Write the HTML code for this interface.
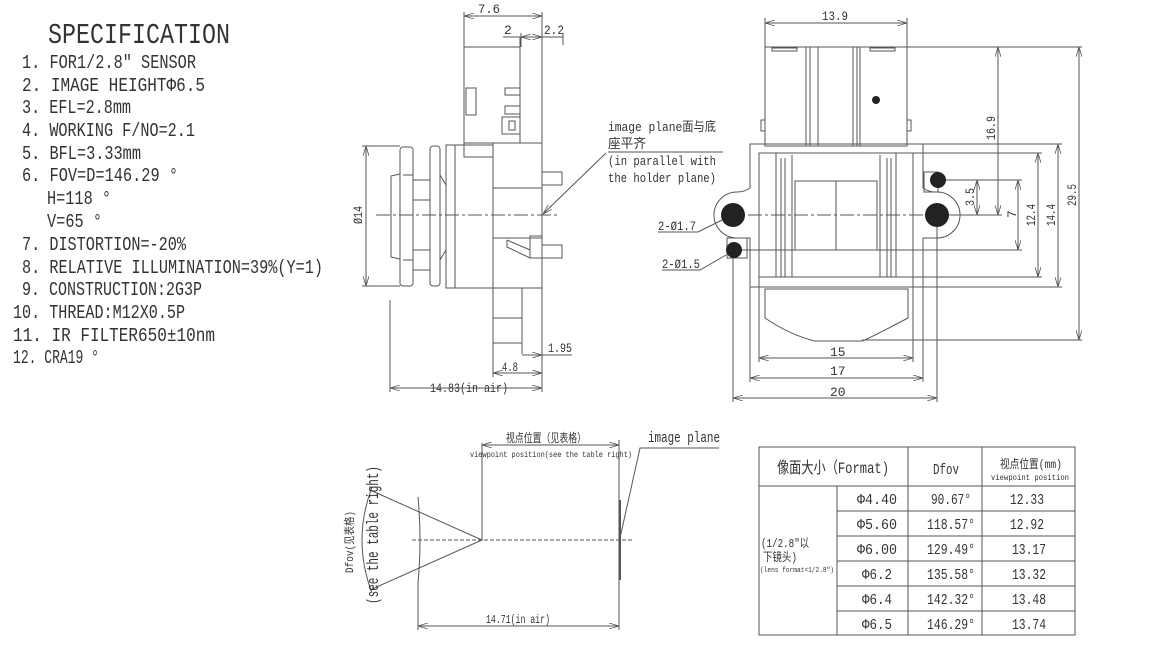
<!DOCTYPE html>
<html><head><meta charset="utf-8"><style>
html,body{margin:0;padding:0;background:#fff;width:1164px;height:650px;overflow:hidden}
svg{display:block;font-family:"Liberation Mono","Noto Sans CJK SC",monospace}
text{fill:#333}
</style></head><body>
<svg width="1164" height="650" viewBox="0 0 1164 650" xmlns="http://www.w3.org/2000/svg">
<defs>
<marker id="a" viewBox="0 0 10 6" refX="10" refY="3" markerWidth="10" markerHeight="6" orient="auto-start-reverse" markerUnits="userSpaceOnUse"><path d="M0,0 L10,3 L0,6" fill="none" stroke="#555" stroke-width="0.8"/></marker>
</defs>
<g font-size="19">
<text x="48" y="43" font-size="29" textLength="182" lengthAdjust="spacingAndGlyphs">SPECIFICATION</text>
<text x="22" y="68" textLength="174" lengthAdjust="spacingAndGlyphs">1. FOR1/2.8″ SENSOR</text>
<text x="22" y="91" textLength="183" lengthAdjust="spacingAndGlyphs">2. IMAGE HEIGHTΦ6.5</text>
<text x="22" y="113" textLength="109" lengthAdjust="spacingAndGlyphs">3. EFL=2.8mm</text>
<text x="22" y="136" textLength="173" lengthAdjust="spacingAndGlyphs">4. WORKING F/NO=2.1</text>
<text x="22" y="159" textLength="119" lengthAdjust="spacingAndGlyphs">5. BFL=3.33mm</text>
<text x="22" y="181" textLength="156" lengthAdjust="spacingAndGlyphs">6. FOV=D=146.29 °</text>
<text x="47" y="204" textLength="64" lengthAdjust="spacingAndGlyphs">H=118 °</text>
<text x="47" y="227" textLength="55" lengthAdjust="spacingAndGlyphs">V=65 °</text>
<text x="22" y="250" textLength="164" lengthAdjust="spacingAndGlyphs">7. DISTORTION=-20%</text>
<text x="22" y="273" textLength="301" lengthAdjust="spacingAndGlyphs">8. RELATIVE ILLUMINATION=39%(Y=1)</text>
<text x="22" y="295" textLength="180" lengthAdjust="spacingAndGlyphs">9. CONSTRUCTION:2G3P</text>
<text x="13" y="318" textLength="172" lengthAdjust="spacingAndGlyphs">10. THREAD:M12X0.5P</text>
<text x="13" y="341" textLength="202" lengthAdjust="spacingAndGlyphs">11. IR FILTER650±10nm</text>
<text x="13" y="363" textLength="86" lengthAdjust="spacingAndGlyphs">12. CRA19 °</text>
</g>

<!-- LEFT SIDE VIEW -->
<g fill="none" stroke="#555" stroke-width="1">
<line x1="464" y1="16" x2="542" y2="16" marker-start="url(#a)" marker-end="url(#a)"/>
<line x1="464" y1="12" x2="464" y2="47"/>
<line x1="542" y1="12" x2="542" y2="343"/>
<line x1="503" y1="37" x2="563" y2="37"/>
<line x1="521" y1="37" x2="542" y2="37" marker-start="url(#a)" marker-end="url(#a)"/>
<line x1="521" y1="33" x2="521" y2="47"/>
<line x1="563" y1="33" x2="563" y2="45"/>
<rect x="464" y="47" width="56" height="96"/>
<line x1="520" y1="37" x2="520" y2="143"/>
<rect x="466" y="88" width="10" height="27"/>
<rect x="505" y="88" width="15" height="7"/>
<rect x="505" y="106" width="15" height="8"/>
<rect x="502" y="117" width="18" height="17"/>
<rect x="509" y="121" width="6" height="9"/>
<polyline points="464,143 464,157 493,157"/>
<rect x="493" y="143" width="49" height="145"/>
<line x1="493" y1="188" x2="542" y2="188"/>
<line x1="493" y1="238" x2="542" y2="238"/>
<polyline points="493,288 493,343 522,343"/>
<polyline points="493,318 522,318"/>
<line x1="522" y1="288" x2="522" y2="354"/>
<rect x="542" y="172" width="20" height="13"/>
<rect x="530" y="236" width="12" height="22"/>
<rect x="542" y="245" width="20" height="13"/>
<polyline points="507,240 530,250 530,258 507,247 507,240"/>
<rect x="446" y="145" width="47" height="143"/>
<line x1="455" y1="145" x2="455" y2="288"/>
<rect x="430" y="146" width="10" height="140" rx="3"/>
<rect x="400" y="147" width="13" height="139" rx="3"/>
<path d="M400,174 L391,176 L391,257 L400,259"/>
<rect x="413" y="180" width="17" height="90"/>
<line x1="413" y1="200" x2="430" y2="200"/><line x1="413" y1="250" x2="430" y2="250"/>
<path d="M440,175 L446,185 L446,250 L440,260"/>
<line x1="403" y1="175" x2="413" y2="175"/><line x1="403" y1="260" x2="413" y2="260"/>
<line x1="366" y1="146" x2="366" y2="286" marker-start="url(#a)" marker-end="url(#a)"/>
<line x1="362" y1="146" x2="400" y2="146"/><line x1="362" y1="286" x2="400" y2="286"/>
<line x1="376" y1="215" x2="560" y2="215" stroke-dasharray="14,3,3,3"/>
<line x1="390" y1="300" x2="390" y2="392"/>
<line x1="493" y1="343" x2="493" y2="377"/>
<line x1="390" y1="388" x2="542" y2="388" marker-start="url(#a)" marker-end="url(#a)"/>
<line x1="542" y1="343" x2="542" y2="392"/>
<line x1="493" y1="373" x2="542" y2="373" marker-start="url(#a)" marker-end="url(#a)"/>
<line x1="522" y1="355" x2="542" y2="355" marker-end="url(#a)"/>
<line x1="542" y1="355" x2="572" y2="355"/>
<line x1="608" y1="152" x2="723" y2="152"/>
<line x1="606" y1="153" x2="543" y2="214" marker-end="url(#a)"/>
</g>
<g font-size="13">
<text x="478" y="13" textLength="22" lengthAdjust="spacingAndGlyphs">7.6</text>
<text x="504" y="34">2</text>
<text x="544" y="34" textLength="20" lengthAdjust="spacingAndGlyphs">2.2</text>
<text transform="translate(362,224) rotate(-90)" textLength="18" lengthAdjust="spacingAndGlyphs">Ø14</text>
<text x="548" y="352" textLength="24" lengthAdjust="spacingAndGlyphs">1.95</text>
<text x="502" y="371" textLength="16" lengthAdjust="spacingAndGlyphs">4.8</text>
<text x="430" y="392" textLength="78" lengthAdjust="spacingAndGlyphs">14.83(in air)</text>
<text x="608" y="131" textLength="108" lengthAdjust="spacingAndGlyphs">image plane面与底</text>
<text x="608" y="148" textLength="38" lengthAdjust="spacingAndGlyphs">座平齐</text>
<text x="608" y="165" textLength="108" lengthAdjust="spacingAndGlyphs">(in parallel with</text>
<text x="608" y="182" textLength="108" lengthAdjust="spacingAndGlyphs">the holder plane)</text>
</g>

<!-- RIGHT FRONT VIEW -->
<g fill="none" stroke="#555" stroke-width="1">
<line x1="765" y1="23" x2="907" y2="23" marker-start="url(#a)" marker-end="url(#a)"/>
<line x1="765" y1="18" x2="765" y2="47"/><line x1="907" y1="18" x2="907" y2="47"/>
<rect x="765" y="47" width="142" height="99"/>
<line x1="806" y1="47" x2="806" y2="146"/><line x1="810" y1="47" x2="810" y2="146"/><line x1="818" y1="47" x2="818" y2="146"/>
<line x1="853" y1="47" x2="853" y2="146"/><line x1="857" y1="47" x2="857" y2="146"/><line x1="860" y1="47" x2="860" y2="146"/>
<rect x="772" y="48" width="25" height="3"/><rect x="870" y="48" width="25" height="3"/>
<rect x="761" y="120" width="4" height="11"/><rect x="907" y="120" width="4" height="11"/>
<path d="M750,144 L923,144 L923,188 A22,22 0 0 0 937,192 A22,22 0 1 1 937,238 L923,238 L923,287 L750,287 L750,238 L737,238 A22,22 0 1 1 737,192 A22,22 0 0 0 750,188 Z"/>
<rect x="759" y="153" width="154" height="124"/>
<rect x="776" y="153" width="120" height="124"/>
<line x1="781" y1="158" x2="781" y2="277"/><line x1="785" y1="158" x2="785" y2="277"/><line x1="792" y1="155" x2="792" y2="277"/>
<line x1="880" y1="155" x2="880" y2="277"/><line x1="887" y1="158" x2="887" y2="277"/><line x1="891" y1="158" x2="891" y2="277"/>
<rect x="795" y="181" width="82" height="69"/>
<line x1="836" y1="181" x2="836" y2="250"/>
<line x1="725" y1="215" x2="950" y2="215" stroke-dasharray="14,3,3,3"/>
<path d="M765,289 L908,289 L908,318 Q870,338 862,341 L815,341 Q790,335 765,318 Z"/>
<line x1="750" y1="287" x2="750" y2="382"/><line x1="923" y1="287" x2="923" y2="382"/>
<line x1="759" y1="277" x2="759" y2="362"/><line x1="913" y1="277" x2="913" y2="362"/>
<line x1="733" y1="250" x2="733" y2="402"/><line x1="937" y1="215" x2="937" y2="402"/>
<line x1="759" y1="358" x2="913" y2="358" marker-start="url(#a)" marker-end="url(#a)"/>
<line x1="750" y1="378" x2="923" y2="378" marker-start="url(#a)" marker-end="url(#a)"/>
<line x1="733" y1="398" x2="937" y2="398" marker-start="url(#a)" marker-end="url(#a)"/>
<line x1="907" y1="47" x2="1082" y2="47"/>
<line x1="923" y1="144" x2="1062" y2="144"/>
<line x1="913" y1="153" x2="1042" y2="153"/>
<line x1="913" y1="277" x2="1042" y2="277"/>
<line x1="923" y1="287" x2="1062" y2="287"/>
<line x1="862" y1="340" x2="1082" y2="340"/>
<line x1="937" y1="180" x2="1022" y2="180"/>
<line x1="733" y1="250" x2="1022" y2="250"/>
<line x1="937" y1="215" x2="1002" y2="215"/>
<line x1="998" y1="47" x2="998" y2="215" marker-start="url(#a)" marker-end="url(#a)"/>
<line x1="977" y1="180" x2="977" y2="215" marker-start="url(#a)" marker-end="url(#a)"/>
<line x1="1018" y1="180" x2="1018" y2="250" marker-start="url(#a)" marker-end="url(#a)"/>
<line x1="1038" y1="153" x2="1038" y2="277" marker-start="url(#a)" marker-end="url(#a)"/>
<line x1="1058" y1="144" x2="1058" y2="287" marker-start="url(#a)" marker-end="url(#a)"/>
<line x1="1079" y1="47" x2="1079" y2="340" marker-start="url(#a)" marker-end="url(#a)"/>
<polyline points="658,232 698,232 722,220"/>
<polyline points="662,270 700,270 726,255"/>
<rect x="727" y="238" width="20" height="20"/>
<rect x="924" y="172" width="14" height="20"/>
</g>
<g fill="#222">
<circle cx="876" cy="100" r="4"/>
<circle cx="733" cy="215" r="12"/><circle cx="937" cy="215" r="12"/>
<circle cx="734" cy="250" r="8"/><circle cx="938" cy="180" r="8"/>
</g>
<g font-size="13">
<text x="822" y="20" textLength="26" lengthAdjust="spacingAndGlyphs">13.9</text>
<text x="830" y="356">15</text>
<text x="830" y="375">17</text>
<text x="830" y="396">20</text>
<text transform="translate(995,140) rotate(-90)" textLength="24" lengthAdjust="spacingAndGlyphs">16.9</text>
<text transform="translate(974,206) rotate(-90)" textLength="18" lengthAdjust="spacingAndGlyphs">3.5</text>
<text transform="translate(1016,218) rotate(-90)">7</text>
<text transform="translate(1035,226) rotate(-90)" textLength="22" lengthAdjust="spacingAndGlyphs">12.4</text>
<text transform="translate(1055,226) rotate(-90)" textLength="22" lengthAdjust="spacingAndGlyphs">14.4</text>
<text transform="translate(1076,206) rotate(-90)" textLength="22" lengthAdjust="spacingAndGlyphs">29.5</text>
<text x="658" y="230" textLength="38" lengthAdjust="spacingAndGlyphs" fill="#666">2-Ø1.7</text>
<text x="662" y="268" textLength="38" lengthAdjust="spacingAndGlyphs" fill="#666">2-Ø1.5</text>
</g>

<!-- BOTTOM DIAGRAM -->
<g fill="none" stroke="#555" stroke-width="1">
<line x1="412" y1="540" x2="633" y2="540" stroke-dasharray="4,2"/>
<polyline points="370,490 482,540 370,590"/>
<path d="M418,497 Q422,540 418,583"/>
<line x1="418" y1="583" x2="418" y2="630"/>
<line x1="482" y1="443" x2="482" y2="540"/>
<line x1="619" y1="440" x2="619" y2="630"/>
<line x1="620" y1="500" x2="620" y2="580" stroke-width="2"/>
<line x1="482" y1="445" x2="619" y2="445" marker-start="url(#a)" marker-end="url(#a)"/>
<line x1="418" y1="626" x2="619" y2="626" marker-start="url(#a)" marker-end="url(#a)"/>
<polyline points="719,448 640,448 620,538"/>
<path d="M372,487 Q352,540 372,593"/>
</g>
<g>
<text x="506" y="442" font-size="12" textLength="80" lengthAdjust="spacingAndGlyphs">视点位置（见表格）</text>
<text x="470" y="457" font-size="8" textLength="162" lengthAdjust="spacingAndGlyphs">viewpoint position(see the table right)</text>
<text x="648" y="442" font-size="15" textLength="72" lengthAdjust="spacingAndGlyphs">image plane</text>
<text x="486" y="623" font-size="12" textLength="64" lengthAdjust="spacingAndGlyphs">14.71(in air)</text>
<text transform="translate(353,573) rotate(-90)" font-size="11" textLength="62" lengthAdjust="spacingAndGlyphs">Dfov(见表格)</text>
<text transform="translate(378,604) rotate(-90)" font-size="17" textLength="138" lengthAdjust="spacingAndGlyphs">(see the table right)</text>
</g>

<!-- TABLE -->
<g fill="none" stroke="#555" stroke-width="1">
<rect x="759" y="447" width="316" height="188"/>
<line x1="759" y1="486" x2="1075" y2="486"/>
<line x1="908" y1="447" x2="908" y2="635"/>
<line x1="982" y1="447" x2="982" y2="635"/>
<line x1="837" y1="486" x2="837" y2="635"/>
<line x1="837" y1="511" x2="1075" y2="511"/>
<line x1="837" y1="536" x2="1075" y2="536"/>
<line x1="837" y1="561" x2="1075" y2="561"/>
<line x1="837" y1="586" x2="1075" y2="586"/>
<line x1="837" y1="611" x2="1075" y2="611"/>
</g>
<g font-size="15">
<text x="777" y="473" font-size="16" textLength="112" lengthAdjust="spacingAndGlyphs">像面大小（Format)</text>
<text x="933" y="474" textLength="26" lengthAdjust="spacingAndGlyphs">Dfov</text>
<text x="1000" y="468" font-size="12" textLength="62" lengthAdjust="spacingAndGlyphs">视点位置(mm)</text>
<text x="991" y="480" font-size="8" textLength="78" lengthAdjust="spacingAndGlyphs">viewpoint position</text>
<text x="761" y="547" font-size="12" textLength="48" lengthAdjust="spacingAndGlyphs">(1/2.8″以</text>
<text x="763" y="561" font-size="12" textLength="34" lengthAdjust="spacingAndGlyphs">下镜头)</text>
<text x="760" y="572" font-size="7" textLength="74" lengthAdjust="spacingAndGlyphs">(lens format&lt;1/2.8″)</text>
<text x="857" y="504" textLength="40" lengthAdjust="spacingAndGlyphs">Φ4.40</text>
<text x="857" y="529" textLength="40" lengthAdjust="spacingAndGlyphs">Φ5.60</text>
<text x="857" y="554" textLength="40" lengthAdjust="spacingAndGlyphs">Φ6.00</text>
<text x="862" y="579" textLength="30" lengthAdjust="spacingAndGlyphs">Φ6.2</text>
<text x="862" y="604" textLength="30" lengthAdjust="spacingAndGlyphs">Φ6.4</text>
<text x="862" y="629" textLength="30" lengthAdjust="spacingAndGlyphs">Φ6.5</text>
<text x="931" y="504" textLength="40" lengthAdjust="spacingAndGlyphs">90.67°</text>
<text x="927" y="529" textLength="48" lengthAdjust="spacingAndGlyphs">118.57°</text>
<text x="927" y="554" textLength="48" lengthAdjust="spacingAndGlyphs">129.49°</text>
<text x="927" y="579" textLength="48" lengthAdjust="spacingAndGlyphs">135.58°</text>
<text x="927" y="604" textLength="48" lengthAdjust="spacingAndGlyphs">142.32°</text>
<text x="927" y="629" textLength="48" lengthAdjust="spacingAndGlyphs">146.29°</text>
<text x="1010" y="504" textLength="34" lengthAdjust="spacingAndGlyphs">12.33</text>
<text x="1010" y="529" textLength="34" lengthAdjust="spacingAndGlyphs">12.92</text>
<text x="1012" y="554" textLength="34" lengthAdjust="spacingAndGlyphs">13.17</text>
<text x="1012" y="579" textLength="34" lengthAdjust="spacingAndGlyphs">13.32</text>
<text x="1012" y="604" textLength="34" lengthAdjust="spacingAndGlyphs">13.48</text>
<text x="1012" y="629" textLength="34" lengthAdjust="spacingAndGlyphs">13.74</text>
</g>
</svg>
</body></html>
